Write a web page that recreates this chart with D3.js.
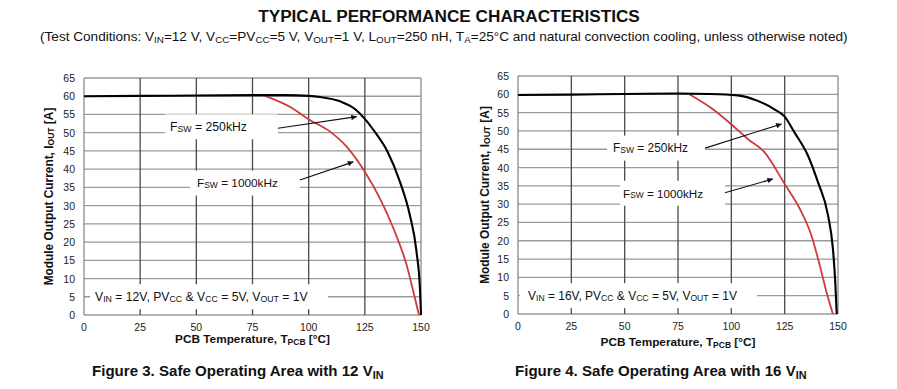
<!DOCTYPE html>
<html>
<head>
<meta charset="utf-8">
<script src="https://cdn.jsdelivr.net/npm/d3@7"></script>
<style>
  body { margin: 0; background: #fff; }
  text { font-family: "Liberation Sans", Arial, Helvetica, sans-serif; fill: #111; }
</style>
</head>
<body>
<svg id="chart" width="897" height="389"></svg>
<script>
// tick labels
const xTicks = [0, 25, 50, 75, 100, 125, 150];
const yTicks = [0, 5, 10, 15, 20, 25, 30, 35, 40, 45, 50, 55, 60, 65];

// Figure 3 (12 VIN)
const fig3Temp250 = [0, 25, 50, 75, 90, 100, 105, 114, 121, 125, 129, 135, 140.6, 145, 148, 149.6, 150];
const fig3Cur250 = [60, 60.1, 60.2, 60.3, 60.3, 60.1, 59.8, 58.6, 56.3, 53.8, 50.6, 44.9, 36.6, 27.5, 17.4, 6.4, 0];
const fig3Temp1000 = [80.6, 91.6, 100.5, 109.5, 116.9, 125, 131.7, 137.7, 143.6, 146.6, 149.1];
const fig3Cur1000 = [60.1, 57.1, 53.5, 50.3, 46.2, 39.3, 32, 23.8, 13.7, 6.4, 0];

// Figure 4 (16 VIN)
const fig4Temp250 = [0, 25, 50, 75, 90, 103, 112.4, 120.2, 125, 129.6, 135.9, 140.6, 145.3, 147.6, 148.7, 149.4];
const fig4Cur250 = [59.8, 59.9, 60.1, 60.2, 60.1, 59.7, 58.2, 55.9, 53.9, 49.6, 43.3, 36, 27, 17.9, 8.9, 0];
const fig4Temp1000 = [80.3, 90.4, 99.8, 107.7, 115.5, 124.9, 132.8, 137.5, 141.4, 144.5, 147.6];
const fig4Cur1000 = [60, 56.3, 51.9, 47.8, 44.2, 35.6, 27.9, 21.5, 13.4, 6.2, 0];

// annotation text, in data units: [temp, current]
const label250 = ["F", "SW", " = 250kHz"];
const label1000 = ["F", "SW", " = 1000kHz"];

const svg = d3.select("#chart");

svg.append("defs").append("marker")
  .attr("id", "arrow")
  .attr("viewBox", "0 0 10 10")
  .attr("refX", 10).attr("refY", 5)
  .attr("markerWidth", 7).attr("markerHeight", 5)
  .attr("orient", "auto")
  .append("path").attr("d", "M0,0L10,5L0,10Z").attr("fill", "#111");

// squeeze/stretch text to a target width by changing its font size
function fitWidth(sel, w) {
  const cur = sel.node().getBBox().width;
  const fs = parseFloat(sel.style("font-size"));
  sel.style("font-size", (fs * w / cur) + "px");
}

// appends runs like ["V","IN","=12 V"]: every odd item is a subscript
function richText(g, parts) {
  parts.forEach(function (p, i) {
    const t = g.append("tspan").text(p);
    if (i % 2 == 1) {
      t.style("font-size", "0.72em").attr("baseline-shift", "-0.25em");
    }
  });
  return g;
}

// header
svg.append("text")
  .attr("x", 449).attr("y", 21.5)
  .attr("text-anchor", "middle")
  .style("font-weight", "bold").style("font-size", "15px")
  .text("TYPICAL PERFORMANCE CHARACTERISTICS")
  .call(fitWidth, 382);

const sub = svg.append("text")
  .attr("x", 40).attr("y", 41)
  .style("font-size", "12px");
richText(sub, ["(Test Conditions: V", "IN", "=12 V, V", "CC", "=PV", "CC", "=5 V, V", "OUT",
  "=1 V, L", "OUT", "=250 nH, T", "A", "=25°C and natural convection cooling, unless otherwise noted)"]);
fitWidth(sub, 808);

function drawPanel(p) {
  const x = d3.scaleLinear().domain([0, 150]).range([p.left, p.right]);
  const y = d3.scaleLinear().domain([0, 65]).range([p.bottom, p.top]);
  const g = svg.append("g");

  // horizontal grid
  g.selectAll(".hgrid").data(yTicks).enter().append("line")
    .attr("x1", p.left).attr("x2", p.right)
    .attr("y1", d => y(d)).attr("y2", d => y(d))
    .attr("stroke", "#9a9a9a").attr("stroke-width", 1.3);
  // vertical grid
  g.selectAll(".vgrid").data(xTicks).enter().append("line")
    .attr("y1", p.top).attr("y2", p.bottom)
    .attr("x1", d => x(d)).attr("x2", d => x(d))
    .attr("stroke", d => (d == 0 || d == 150) ? "#8a8a8a" : "#4a4a4a")
    .attr("stroke-width", 1.3);

  // white boxes behind annotations
  p.boxes.forEach(function (b) {
    g.append("rect")
      .attr("x", x(b[0])).attr("width", x(b[1]) - x(b[0]))
      .attr("y", y(b[2]) - 12.5).attr("height", 25)
      .attr("fill", "#fff");
  });

  // y tick labels
  g.selectAll(".ylab").data(yTicks).enter().append("text")
    .attr("x", p.left - 9).attr("y", d => y(d))
    .attr("text-anchor", "end").attr("dominant-baseline", "central")
    .style("font-size", "10.5px").style("fill", "#222")
    .text(d => d);
  // x tick labels
  g.selectAll(".xlab").data(xTicks).enter().append("text")
    .attr("x", d => x(d)).attr("y", p.bottom + 16)
    .attr("text-anchor", "middle")
    .style("font-size", "10.5px").style("fill", "#222")
    .text(d => d);

  const line = d3.line()
    .x(d => x(d[0])).y(d => y(d[1]))
    .curve(d3.curveMonotoneX);

  g.append("path")
    .datum(d3.zip(p.temp1000, p.cur1000))
    .attr("d", line).attr("fill", "none")
    .attr("stroke", "#cf3a3c").attr("stroke-width", 1.8);
  g.append("path")
    .datum(d3.zip(p.temp250, p.cur250))
    .attr("d", line).attr("fill", "none")
    .attr("stroke", "#000").attr("stroke-width", 2.1);

  // annotations
  p.labels.forEach(function (a) {
    const t = g.append("text")
      .attr("x", x(a.at[0])).attr("y", y(a.at[1]))
      .attr("text-anchor", a.anchor).attr("dominant-baseline", "central")
      .style("font-size", "10.5px");
    richText(t, a.parts);
    if (a.width) fitWidth(t, a.width);
  });
  p.arrows.forEach(function (a) {
    g.append("line")
      .attr("x1", x(a[0])).attr("y1", y(a[1]))
      .attr("x2", x(a[2])).attr("y2", y(a[3]))
      .attr("stroke", "#111").attr("stroke-width", 1.1)
      .attr("marker-end", "url(#arrow)");
  });

  // axis titles
  const yt = g.append("text")
    .attr("transform", "translate(" + p.yTitleX + "," + (p.top + p.bottom) / 2 + ") rotate(-90)")
    .attr("text-anchor", "middle").attr("dominant-baseline", "central")
    .style("font-weight", "bold").style("font-size", "10px");
  richText(yt, ["Module Output Current, I", "OUT", " [A]"]);
  fitWidth(yt, 178);

  const xt = g.append("text")
    .attr("x", (p.left + p.right) / 2).attr("y", p.xTitleY)
    .attr("text-anchor", "middle")
    .style("font-weight", "bold").style("font-size", "10px");
  richText(xt, ["PCB Temperature, T", "PCB", " [°C]"]);
  fitWidth(xt, 155);

  const cap = g.append("text")
    .attr("x", p.capX).attr("y", 376)
    .style("font-weight", "bold").style("font-size", "13px");
  richText(cap, p.caption);
  fitWidth(cap, 292);
}

drawPanel({
  left: 84, right: 421, top: 78, bottom: 315,
  temp250: fig3Temp250, cur250: fig3Cur250,
  temp1000: fig3Temp1000, cur1000: fig3Cur1000,
  boxes: [[36, 86.3, 51.6], [47.2, 96.1, 36.2], [2.7, 108.6, 5]],
  labels: [
    { parts: label250, at: [55.4, 51.6], anchor: "middle", width: 77 },
    { parts: label1000, at: [68.3, 36.2], anchor: "middle", width: 81 },
    { parts: ["V", "IN", " = 12V, PV", "CC", " & V", "CC", " = 5V, V", "OUT", " = 1V"], at: [4.9, 5], anchor: "start", width: 213 }
  ],
  arrows: [[86.3, 51.2, 121.4, 54.4], [96.1, 37.0, 119.9, 42.0]],
  yTitleX: 49, xTitleY: 343,
  capX: 92,
  caption: ["Figure 3. Safe Operating Area with 12 V", "IN", ""]
});

drawPanel({
  left: 518, right: 838, top: 76, bottom: 314,
  temp250: fig4Temp250, cur250: fig4Cur250,
  temp1000: fig4Temp1000, cur1000: fig4Cur1000,
  boxes: [[41.7, 87.7, 45.3], [47.8, 97, 33.0], [0.9, 112, 5]],
  labels: [
    { parts: label250, at: [62.1, 45.3], anchor: "middle", width: 75 },
    { parts: label1000, at: [68, 33.0], anchor: "middle", width: 80 },
    { parts: ["V", "IN", " = 16V, PV", "CC", " & V", "CC", " = 5V, V", "OUT", " = 1V"], at: [4.7, 5], anchor: "start", width: 209 }
  ],
  arrows: [[87.7, 45.3, 123.6, 51.9], [97, 33.1, 119.5, 36.9]],
  yTitleX: 485, xTitleY: 346,
  capX: 515,
  caption: ["Figure 4. Safe Operating Area with 16 V", "IN", ""]
});
</script>
</body>
</html>
